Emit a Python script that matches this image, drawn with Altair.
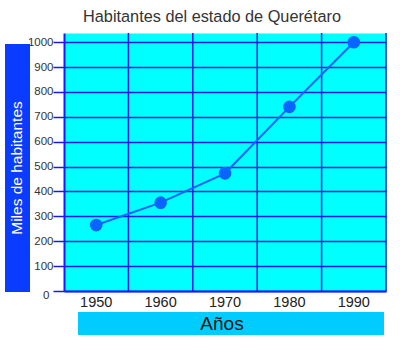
import altair as alt
import pandas as pd

# ---- data ----
anios = ["1950", "1960", "1970", "1980", "1990"]
habitantes = [265, 355, 473, 740, 1000]
y_ticks = [0, 100, 200, 300, 400, 500, 600, 700, 800, 900, 1000]
titulo = "Habitantes del estado de Querétaro"
titulo_y = "Miles de habitantes"
titulo_x = "Años"

df = pd.DataFrame({"anio": anios, "hab": habitantes})

FONT = "Liberation Sans"
GRID = "#1a1ae8"
PT = "#0a64ff"

x_axis = alt.Axis(
    title=None, labelAngle=0, labelFontSize=14.5, labelColor="#222222",
    labelFont=FONT, tickSize=0, labelPadding=4, grid=False,
    domainColor="#1a1aff", domainWidth=2,
)
x_scale = alt.Scale(paddingInner=0, paddingOuter=0)
y_scale = alt.Scale(domain=[0, 1037], nice=False, zero=True)
y_axis = alt.Axis(
    title=None, values=y_ticks, format="d", grid=True, gridColor=GRID, gridWidth=1.5,
    tickSize=11, tickColor=GRID, tickWidth=1.5,
    labelFontSize=11.5, labelFont=FONT, labelColor="#333333",
    labelPadding={"condition": {"test": "datum.value === 0", "value": 4}, "value": 0},
    labelOffset={"condition": {"test": "datum.value === 0", "value": 4}, "value": 0},
    domainColor="#1a1aff", domainWidth=2,
)

base = alt.Chart(df)

rules = base.mark_rule(color=GRID, strokeWidth=1.5).encode(
    x=alt.X("anio:O", bandPosition=1, scale=x_scale, axis=x_axis),
)

line = base.mark_line(color=PT, strokeWidth=2).encode(
    x=alt.X("anio:O", scale=x_scale, axis=x_axis),
    y=alt.Y("hab:Q", scale=y_scale, axis=y_axis),
)

points = base.mark_circle(color=PT, size=160, opacity=1).encode(
    x=alt.X("anio:O", scale=x_scale, axis=x_axis),
    y=alt.Y("hab:Q", scale=y_scale, axis=y_axis),
)

one = pd.DataFrame({"t": [titulo]})
title_txt = alt.Chart(one).mark_text(
    fontSize=16.3, font=FONT, color="#333333", align="center", baseline="middle"
).encode(text="t:N", x=alt.value(148), y=alt.value(-16))

ybox = alt.Chart(pd.DataFrame({"t": [titulo_y]})).mark_rect(color="#0a3cff").encode(
    x=alt.value(-59), x2=alt.value(-34), y=alt.value(11), y2=alt.value(259)
)
ytxt = alt.Chart(pd.DataFrame({"t": [titulo_y]})).mark_text(
    fontSize=15.5, font=FONT, color="white", angle=270, align="center", baseline="middle"
).encode(text="t:N", x=alt.value(-47), y=alt.value(135))

xbox = alt.Chart(pd.DataFrame({"t": [titulo_x]})).mark_rect(color="#00ccff").encode(
    x=alt.value(14), x2=alt.value(320), y=alt.value(279), y2=alt.value(302)
)
xtxt = alt.Chart(pd.DataFrame({"t": [titulo_x]})).mark_text(
    fontSize=19, font=FONT, color="#111111", align="center", baseline="middle"
).encode(text="t:N", x=alt.value(158), y=alt.value(291))

chart = alt.layer(
    rules, line, points, title_txt, ybox, ytxt, xbox, xtxt
).properties(
    width=322, height=258,
    padding={"left": 64, "top": 33, "right": 14, "bottom": 65},
    autosize=alt.AutoSizeParams(type="none"),
    background="white",
).configure_view(fill="#00ffff", stroke="transparent")

chart.save("out.html", embed_options={"renderer": "svg", "actions": False})
